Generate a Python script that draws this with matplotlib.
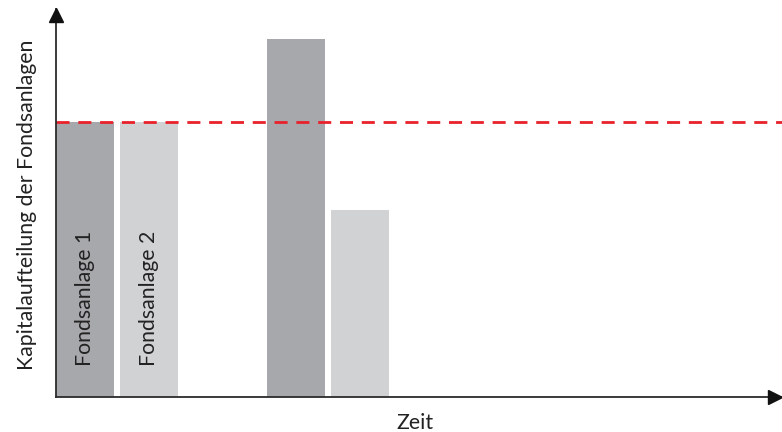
import matplotlib.pyplot as plt
import numpy as np

# Kapitalaufteilung zu zwei Zeitpunkten (Referenzniveau = 100)
zeitpunkte = [0, 1]
fonds_1 = [100, 130]
fonds_2 = [100, 68]
referenz = 100
bar_labels = ['Fondsanlage 1', 'Fondsanlage 2']

dunkel = '#a7a8ac'
hell = '#d1d2d4'
rot = '#e8212a'
achse = '#2b2b2b'
schrift = '#222222'

plt.rcParams['font.family'] = ['Lato', 'DejaVu Sans']

fig = plt.figure(figsize=(7.82, 4.32), dpi=100)
# axes box in pixels: left 56, right 782, bottom 397, top 9
ax = fig.add_axes([56 / 782, (432 - 397) / 432, (782 - 56) / 782, (397 - 9) / 432])

x = np.array(zeitpunkte, dtype=float)
breite = 0.275
versatz = 0.152
ax.bar(x - versatz, fonds_1, width=breite, color=dunkel, zorder=1)
ax.bar(x + versatz, fonds_2, width=breite, color=hell, zorder=1)

# Beschriftung in den ersten beiden Balken
for xpos, text in zip([x[0] - versatz, x[0] + versatz], bar_labels):
    ax.text(xpos, 11.3, text, rotation=90, ha='center', va='bottom',
            fontsize=15.3, color=schrift, zorder=3)

ax.axhline(referenz, color=rot, lw=2.0, linestyle=(0, (4.7, 3.15)), zorder=2)

ax.set_xlim(-0.289, 3.152)
ax.set_ylim(0, 141)

for s in ax.spines.values():
    s.set_visible(False)
ax.set_xticks([])
ax.set_yticks([])

# Achsen mit Pfeilspitzen
ax.plot([0, 0], [0, 1], transform=ax.transAxes, color=achse, lw=1.3, clip_on=False, zorder=4)
ax.plot([0, 1], [0, 0], transform=ax.transAxes, color=achse, lw=1.3, clip_on=False, zorder=4)
ax.plot([0], [0.985], marker='^', markersize=10, color='#111111', transform=ax.transAxes,
        clip_on=False, zorder=5)
ax.plot([0.99], [0], marker='>', markersize=10, color='#111111', transform=ax.transAxes,
        clip_on=False, zorder=5)

fig.text(27 / 782, 1 - 205 / 432, 'Kapitalaufteilung der Fondsanlagen', rotation=90,
         ha='center', va='center', fontsize=15.3, color=schrift)
fig.text(415 / 782, 1 - 429 / 432, 'Zeit', ha='center', va='baseline',
         fontsize=15.3, color=schrift)

fig.savefig('out.png', dpi=100)
